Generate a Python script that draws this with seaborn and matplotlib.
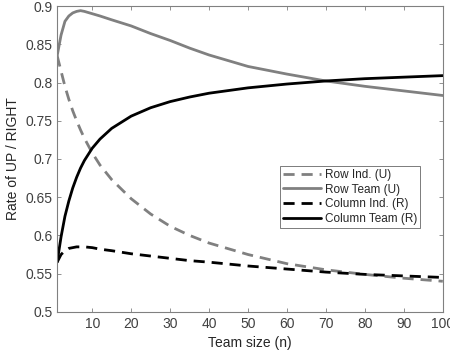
import matplotlib
matplotlib.use("Agg")
import matplotlib.pyplot as plt
import pandas as pd
import seaborn as sns
from matplotlib.ticker import FormatStrFormatter

# Team size values
team_size = [1, 2, 3, 4, 5, 6, 7, 8, 10, 12, 15, 20, 25, 30, 35, 40, 50, 60, 70, 80, 90, 100]

row_ind = [0.835, 0.815, 0.795, 0.778, 0.763, 0.750, 0.738, 0.727, 0.708, 0.692, 0.673,
           0.648, 0.628, 0.612, 0.600, 0.590, 0.575, 0.563, 0.555, 0.549, 0.544, 0.540]
row_team = [0.835, 0.862, 0.880, 0.887, 0.891, 0.893, 0.894, 0.893, 0.890, 0.887, 0.882,
            0.874, 0.864, 0.855, 0.845, 0.836, 0.821, 0.811, 0.802, 0.795, 0.789, 0.783]
col_ind = [0.565, 0.575, 0.580, 0.583, 0.584, 0.585, 0.585, 0.585, 0.584, 0.582, 0.580,
           0.576, 0.573, 0.570, 0.567, 0.565, 0.560, 0.556, 0.552, 0.549, 0.547, 0.545]
col_team = [0.565, 0.598, 0.625, 0.645, 0.662, 0.676, 0.688, 0.698, 0.714, 0.726, 0.740,
            0.756, 0.767, 0.775, 0.781, 0.786, 0.793, 0.798, 0.802, 0.805, 0.807, 0.809]

series_names = ['Row Ind. (U)', 'Row Team (U)', 'Column Ind. (R)', 'Column Team (R)']

sns.set_style('white')
plt.rcParams['font.family'] = ['Liberation Sans', 'DejaVu Sans']

# Long-form data for seaborn
frames = []
for name, vals in zip(series_names, [row_ind, row_team, col_ind, col_team]):
    frames.append(pd.DataFrame({'n': team_size, 'rate': vals, 'series': name}))
df = pd.concat(frames, ignore_index=True)

palette = {'Row Ind. (U)': '#808080', 'Row Team (U)': '#808080',
           'Column Ind. (R)': 'black', 'Column Team (R)': 'black'}
dashes = {'Row Ind. (U)': (4, 2.5), 'Row Team (U)': '',
          'Column Ind. (R)': (4, 2.5), 'Column Team (R)': ''}

fig = plt.figure(figsize=(4.5, 3.56), dpi=100)
ax = fig.add_axes([0.127, 0.124, 0.857, 0.859])
sns.lineplot(data=df, x='n', y='rate', hue='series', style='series',
             hue_order=series_names, style_order=series_names,
             palette=palette, dashes=dashes, linewidth=2, ax=ax)

ax.set_xlim(1, 100)
ax.set_ylim(0.5, 0.9)
ax.set_xticks(range(10, 101, 10))
ax.set_yticks([0.5, 0.55, 0.6, 0.65, 0.7, 0.75, 0.8, 0.85, 0.9])
ax.yaxis.set_major_formatter(FormatStrFormatter('%g'))
ax.set_xlabel('Team size (n)', fontsize=10, color='#262626')
ax.set_ylabel('Rate of UP / RIGHT', fontsize=10, color='#262626')

# MATLAB-like box with inward ticks
for spine in ax.spines.values():
    spine.set_visible(True)
    spine.set_color('#808080')
    spine.set_linewidth(0.8)
ax.tick_params(direction='in', length=3, width=0.6, color='#808080',
               labelsize=10, labelcolor='#404040', top=True, right=True,
               bottom=True, left=True, labeltop=False, labelright=False)

leg = ax.legend(loc='lower left', bbox_to_anchor=(0.578, 0.275), fontsize=8.5,
                frameon=True, fancybox=False, borderpad=0.25, labelspacing=0.22,
                handlelength=3.2, handletextpad=0.35, borderaxespad=0)
leg.get_frame().set_edgecolor('#404040')
leg.get_frame().set_linewidth(0.6)
for t in leg.get_texts():
    t.set_color('#262626')

plt.savefig('out.png', dpi=100)
